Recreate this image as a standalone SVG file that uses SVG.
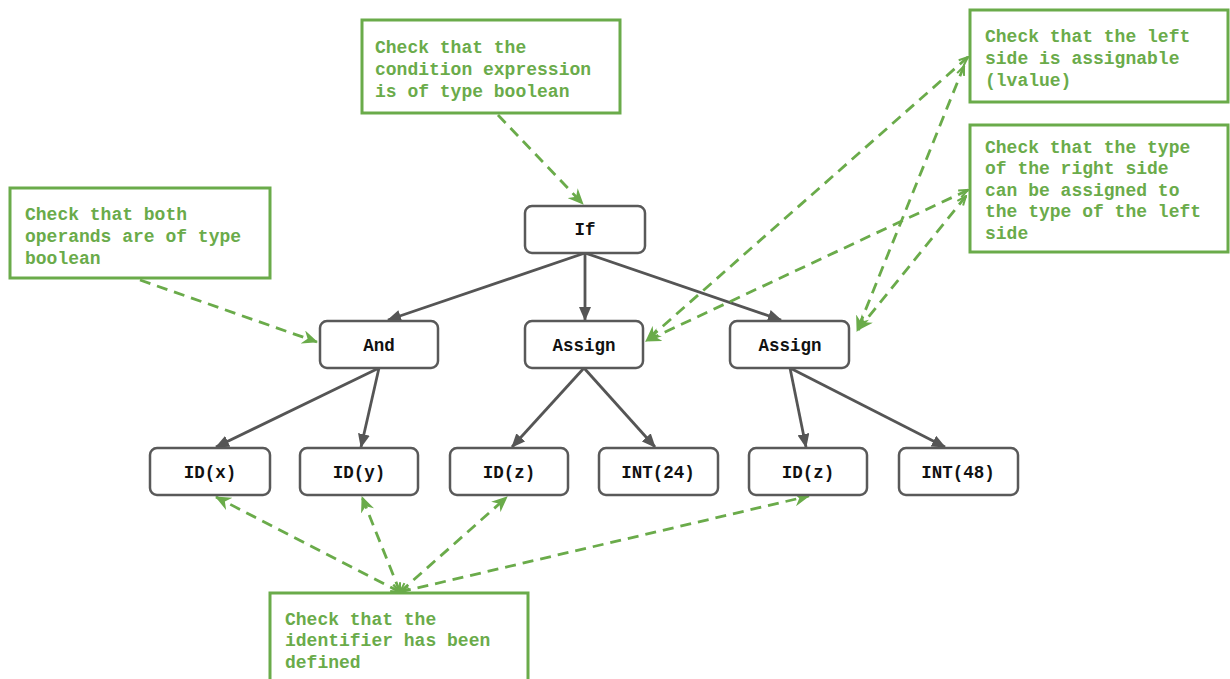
<svg xmlns="http://www.w3.org/2000/svg" width="1230" height="679" viewBox="0 0 1230 679">
<style>
.node rect{fill:#fff;stroke:#595959;stroke-width:2.5}
.node text{font-family:"Liberation Mono",monospace;font-weight:bold;font-size:17.5px;fill:#111;text-anchor:middle}
.note rect{fill:#fff;stroke:#6aab4a;stroke-width:3}
.note text{font-family:"Liberation Mono",monospace;font-weight:bold;font-size:18px;fill:#6aab4a}
.edge{stroke:#555;stroke-width:2.8;fill:none;marker-end:url(#ah)}
.dash{stroke:#6aab4a;stroke-width:2.8;fill:none;stroke-dasharray:11 7;marker-end:url(#gh)}
.both{marker-start:url(#gs)}
</style>
<defs>
<marker id="ah" viewBox="0 0 14 12" refX="13" refY="6" markerWidth="14" markerHeight="12" markerUnits="userSpaceOnUse" orient="auto"><path d="M0,0 L14,6 L0,12 z" fill="#555"/></marker>
<marker id="gh" viewBox="0 0 16 14" refX="15" refY="7" markerWidth="16" markerHeight="14" markerUnits="userSpaceOnUse" orient="auto"><path d="M0,0 L16,7 L0,14 L5,7 z" fill="#6aab4a"/></marker>
<marker id="gs" viewBox="0 0 12 10" refX="11" refY="5" markerWidth="11" markerHeight="10" markerUnits="userSpaceOnUse" orient="auto-start-reverse"><path d="M1,1 L11,5 L1,9" fill="none" stroke="#6aab4a" stroke-width="2.2"/></marker>
</defs>
<rect width="1230" height="679" fill="#fff"/>
<g id="connectors">
<line class="edge" x1="585" y1="253" x2="388" y2="320"/>
<line class="edge" x1="585" y1="253" x2="585" y2="320"/>
<line class="edge" x1="585" y1="253" x2="781" y2="320"/>
<line class="edge" x1="379" y1="368" x2="216" y2="447"/>
<line class="edge" x1="379" y1="368" x2="361" y2="447"/>
<line class="edge" x1="584" y1="368" x2="512" y2="447"/>
<line class="edge" x1="584" y1="368" x2="655" y2="447"/>
<line class="edge" x1="790" y1="368" x2="806" y2="447"/>
<line class="edge" x1="790" y1="368" x2="945" y2="447"/>
<line class="dash" x1="498" y1="115" x2="583" y2="204"/>
<line class="dash" x1="140" y1="280" x2="317" y2="342"/>
<line class="dash both" x1="968" y1="57" x2="646" y2="341"/>
<line class="dash both" x1="964" y1="66" x2="857" y2="331"/>
<line class="dash both" x1="968" y1="190" x2="646" y2="341"/>
<line class="dash both" x1="966" y1="196" x2="858" y2="330"/>
<line class="dash both" x1="400" y1="592" x2="216" y2="497"/>
<line class="dash both" x1="400" y1="592" x2="362" y2="497"/>
<line class="dash both" x1="400" y1="592" x2="507" y2="497"/>
<line class="dash both" x1="400" y1="592" x2="809" y2="496"/>
</g>
<g id="note-condition" class="note"><rect x="362" y="20" width="258" height="93"/>
<text x="375" y="53">Check that the</text><text x="375" y="75">condition expression</text><text x="375" y="97">is of type boolean</text></g>
<g id="note-lvalue" class="note"><rect x="970" y="10" width="258" height="92"/>
<text x="985" y="42">Check that the left</text><text x="985" y="64">side is assignable</text><text x="985" y="86">(lvalue)</text></g>
<g id="note-assign-type" class="note"><rect x="970" y="125" width="258" height="127"/>
<text x="985" y="153">Check that the type</text><text x="985" y="174">of the right side</text><text x="985" y="196">can be assigned to</text><text x="985" y="217">the type of the left</text><text x="985" y="239">side</text></g>
<g id="note-operands" class="note"><rect x="10" y="188" width="260" height="90"/>
<text x="25" y="220">Check that both</text><text x="25" y="242">operands are of type</text><text x="25" y="264">boolean</text></g>
<g id="note-defined" class="note"><rect x="270" y="593" width="258" height="100"/>
<text x="285" y="625">Check that the</text><text x="285" y="646">identifier has been</text><text x="285" y="668">defined</text></g>
<g id="n-if" class="node"><rect x="525" y="206" width="120" height="47" rx="7"/><text x="585" y="235">If</text></g>
<g id="n-and" class="node"><rect x="320" y="321" width="118" height="47" rx="7"/><text x="379" y="351">And</text></g>
<g id="n-assign1" class="node"><rect x="525" y="321" width="118" height="47" rx="7"/><text x="584" y="351">Assign</text></g>
<g id="n-assign2" class="node"><rect x="730" y="321" width="119" height="47" rx="7"/><text x="790" y="351">Assign</text></g>
<g id="n-idx" class="node"><rect x="150" y="448" width="120" height="47" rx="7"/><text x="210" y="478">ID(x)</text></g>
<g id="n-idy" class="node"><rect x="300" y="448" width="118" height="47" rx="7"/><text x="359" y="478">ID(y)</text></g>
<g id="n-idz1" class="node"><rect x="450" y="448" width="118" height="47" rx="7"/><text x="509" y="478">ID(z)</text></g>
<g id="n-int24" class="node"><rect x="599" y="448" width="119" height="47" rx="7"/><text x="658" y="478">INT(24)</text></g>
<g id="n-idz2" class="node"><rect x="749" y="448" width="118" height="47" rx="7"/><text x="808" y="478">ID(z)</text></g>
<g id="n-int48" class="node"><rect x="899" y="448" width="119" height="47" rx="7"/><text x="958" y="478">INT(48)</text></g>
</svg>
